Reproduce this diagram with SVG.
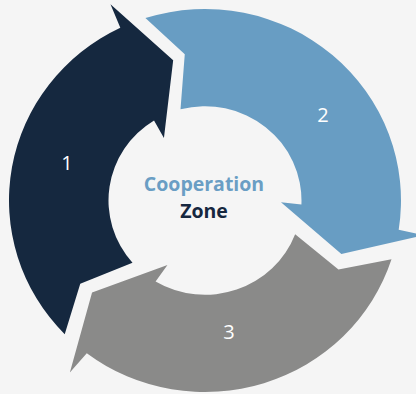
<svg xmlns="http://www.w3.org/2000/svg" width="416" height="394" viewBox="0 0 416 394">
  <style>
    .num { font-family: "Open Sans", "Noto Sans", "Liberation Sans", sans-serif; font-size: 20px; fill: #ffffff; text-anchor: middle; }
    .title { font-family: "Open Sans", "Noto Sans", "Liberation Sans", sans-serif; font-size: 19.5px; font-weight: 700; text-anchor: middle; }
  </style>
  <rect width="416" height="394" fill="#f5f5f5"/>
  <g transform="translate(205,200.5) scale(1,0.977)">
    <g id="node1">
      <path fill="#15283f" d="M-140.28,136.89 A196,196 0 0 1 -84.69,-176.76 L-94.52,-200.87 L-31.82,-143.52 L-41.06,-63.95 L-50.98,-81.94 A96.5,96.5 0 0 0 -72.50,63.69 L-124.74,85.09 Z"/>
    </g>
    <g id="node2">
      <path fill="#689dc3" d="M-59.59,-186.72 A196,196 0 0 1 193.69,29.99 L219.14,35.49 L136.39,54.83 L75.98,1.72 L96.41,4.21 A96.5,96.5 0 0 0 -24.49,-93.34 L-20.23,-149.64 Z"/>
    </g>
    <g id="node3">
      <path fill="#8a8a89" d="M186.51,60.24 A196,196 0 0 1 -118.23,156.33 L-135.14,176.12 L-112.94,94.10 L-37.54,66.08 L-49.41,82.89 A96.5,96.5 0 0 0 90.15,34.43 L133.45,70.66 Z"/>
    </g>
  </g>
  <g id="labels">
    <text class="num" x="67" y="170">1</text>
    <text class="num" x="323" y="122">2</text>
    <text class="num" x="229" y="339">3</text>
  </g>
  <g id="center">
    <text class="title" x="204" y="191" fill="#6a9ec4">Cooperation</text>
    <text class="title" x="204" y="218" fill="#16273f">Zone</text>
  </g>
</svg>
